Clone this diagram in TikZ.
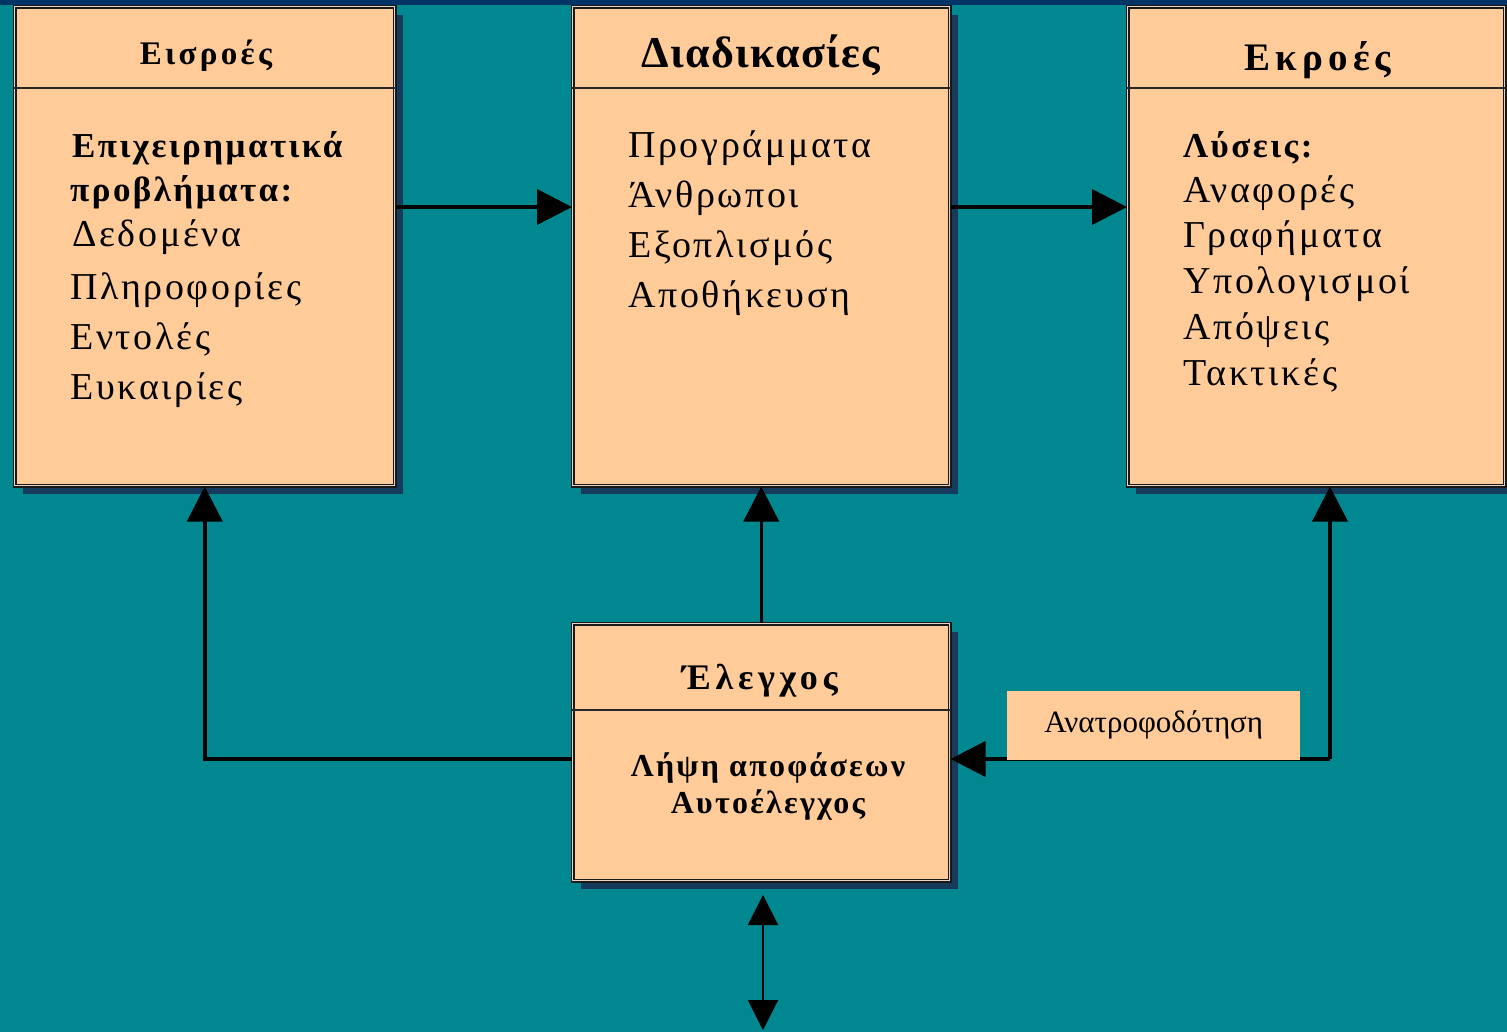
\documentclass[tikz,border=0pt]{standalone}
\usepackage{fontspec}
\setmainfont{Liberation Serif}
\newfontfamily\lsA[LetterSpace=7]{Liberation Serif}
\newfontfamily\lsB[LetterSpace=13]{Liberation Serif}
\newfontfamily\lsC[LetterSpace=10]{Liberation Serif}
\newfontfamily\lsD[LetterSpace=3]{Liberation Serif}
\usetikzlibrary{arrows.meta,shadows}
\definecolor{teal0}{HTML}{00878F}
\definecolor{navy0}{HTML}{013466}
\definecolor{shad}{HTML}{163A5C}
\definecolor{peach}{HTML}{FFCC99}
\definecolor{gapc}{HTML}{EBD3C6}
\tikzset{
  box/.style={rectangle, fill=peach, draw=black!90, line width=1.5pt, double=gapc, double distance=1.2pt,
    anchor=north west, inner sep=0pt,
    drop shadow={shadow xshift=8pt, shadow yshift=-8pt, fill=shad, opacity=1}},
  divider/.style={draw=black!85, line width=1.6pt},
  ttl/.style={anchor=base, inner sep=0pt},
  bodyb/.style={font=\lsA\bfseries\fontsize{35}{40}\selectfont, anchor=base west, inner sep=0pt},
  bodyr/.style={font=\lsA\fontsize{38}{40}\selectfont, anchor=base west, inner sep=0pt},
  ctrl/.style={font=\lsA\bfseries\fontsize{32}{36}\selectfont, anchor=base, inner sep=0pt},
  flow/.style={draw=black, line width=3.5pt, -{Triangle[length=35pt,width=35pt]}},
  lbl/.style={rectangle, fill=peach, anchor=south west, inner sep=0pt, minimum width=293pt, minimum height=69pt, font=\fontsize{31}{34}\selectfont},
}
\begin{document}
\begin{tikzpicture}[x=1pt,y=-1pt]
\useasboundingbox (0,0) rectangle (1507,1032);
\fill[teal0] (0,0) rectangle (1507,1032);
\fill[navy0] (0,0) rectangle (1507,5);

% boxes
\node[box, minimum width=380pt, minimum height=479pt] (b1) at (14,6) {};
\node[box, minimum width=377pt, minimum height=479pt] (b2) at (572,6) {};
\node[box, minimum width=377pt, minimum height=479pt] (b3) at (1127,6) {};
\node[box, minimum width=377pt, minimum height=257pt] (b4) at (572,623) {};

% dividers
\draw[divider] (b1.west |- 0,88) -- (b1.east |- 0,88);
\draw[divider] (b2.west |- 0,88) -- (b2.east |- 0,88);
\draw[divider] (b3.west |- 0,88) -- (b3.east |- 0,88);
\draw[divider] (b4.west |- 0,710) -- (b4.east |- 0,710);

% titles
\node[ttl, font=\lsC\bfseries\fontsize{33}{36}\selectfont] (h1) at (206,65) {Εισροές};
\node[ttl, font=\lsD\bfseries\fontsize{44}{44}\selectfont] (h2) at (761,68) {Διαδικασίες};
\node[ttl, font=\lsB\bfseries\fontsize{39}{40}\selectfont] (h3) at (1318,71) {Εκροές};
\node[ttl, font=\lsB\bfseries\fontsize{36}{40}\selectfont] (h4) at (760,689) {Έλεγχος};

% box 1 text
\node[bodyb] (t11) at (72,158) {Επιχειρηματικά};
\node[bodyb] (t12) at (70,202) {προβλήματα:};
\node[bodyr] (t13) at (72,247) {Δεδομένα};
\node[bodyr] (t14) at (70,299) {Πληροφορίες};
\node[bodyr] (t15) at (70,349) {Εντολές};
\node[bodyr] (t16) at (70,399) {Ευκαιρίες};

% box 2 text
\node[bodyr] (t21) at (628,158) {Προγράμματα};
\node[bodyr] (t22) at (628,208) {Άνθρωποι};
\node[bodyr] (t23) at (628,258) {Εξοπλισμός};
\node[bodyr] (t24) at (628,308) {Αποθήκευση};

% box 3 text
\node[bodyb] (t31) at (1183,158) {Λύσεις:};
\node[bodyr] (t32) at (1183,203) {Αναφορές};
\node[bodyr] (t33) at (1183,248) {Γραφήματα};
\node[bodyr] (t34) at (1183,294) {Υπολογισμοί};
\node[bodyr] (t35) at (1183,339) {Απόψεις};
\node[bodyr] (t36) at (1183,385) {Τακτικές};

% box 4 text
\node[ctrl] (t41) at (768,776) {Λήψη αποφάσεων};
\node[ctrl] (t42) at (768,813) {Αυτοέλεγχος};

% connectors
\coordinate (fb) at (1330,759);
\draw[flow] (b1.east |- 0,207) -- (b2.west |- 0,207);
\draw[flow] (b2.east |- 0,207) -- (b3.west |- 0,207);
\draw[flow] (b4.north) -- (b2.south);
\draw[flow] (b4.west |- fb) -| (b1.south);
\draw[flow] (fb) -- (b4.east |- fb);
\draw[flow] (fb) -- (b3.south -| fb);

\node[lbl] (fl) at (1007,760) {Ανατροφοδότηση};

\coordinate (d1) at (763,895);
\coordinate (d2) at (763,1030);
\draw[draw=black, line width=2pt, {Triangle[length=30pt,width=30pt]}-{Triangle[length=30pt,width=30pt]}] (d1) -- (d2);
\end{tikzpicture}
\end{document}
